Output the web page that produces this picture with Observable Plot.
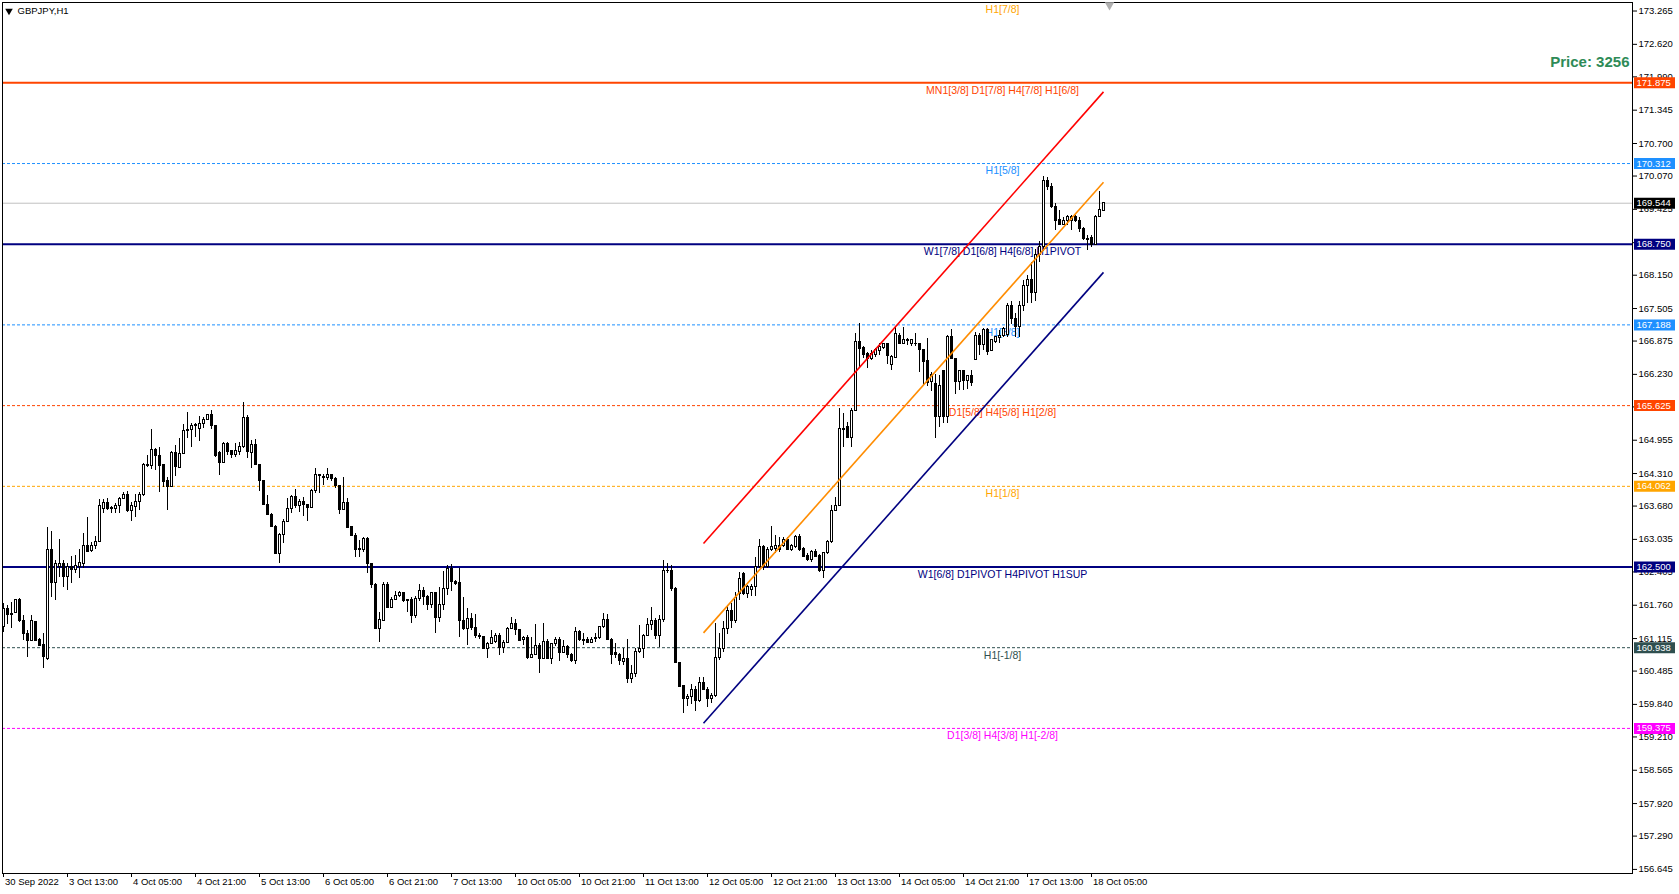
<!DOCTYPE html>
<html><head><meta charset="utf-8">
<script src="https://cdn.jsdelivr.net/npm/d3@7"></script>
<script src="https://cdn.jsdelivr.net/npm/@observablehq/plot@0.6"></script>
<style>body{margin:0;background:#fff;} svg{display:block}</style>
</head><body><div id="chart"></div>
<script>
// ---- hourly candles GBPJPY H1, bar 0 = 30 Sep 2022 21:00 ----
const opens = [
161.335,161.690,161.58,161.613,161.852,161.464,161.206,161.064,161.445,161.090,
160.993,160.722,162.820,162.187,162.497,162.562,162.303,162.497,162.445,162.497,
162.562,162.910,162.807,162.910,162.988,163.627,163.749,163.633,163.627,163.672,
163.820,163.898,163.581,163.659,163.755,163.885,164.466,164.459,164.756,164.659,
164.466,164.156,164.046,164.711,164.420,164.691,165.143,165.156,165.240,165.175,
165.272,165.356,165.434,165.240,164.704,164.517,164.885,164.737,164.672,164.724,
164.820,165.388,164.711,164.853,164.478,164.175,163.704,163.511,163.284,162.755,
163.123,163.381,163.627,163.865,163.691,163.768,163.710,163.646,163.981,164.253,
164.240,164.227,164.272,164.207,164.078,163.607,163.743,163.271,163.110,162.852,
162.839,163.033,162.562,162.161,161.303,161.464,162.161,161.710,161.865,161.948,
161.994,161.839,161.852,161.561,161.884,162.045,161.916,161.755,161.994,161.516,
161.774,162.077,162.465,162.207,162.194,161.464,161.303,161.497,161.322,161.174,
161.142,160.916,161.013,161.045,161.174,160.935,161.032,161.303,161.400,161.271,
161.090,161.129,160.742,160.806,160.980,160.722,161.045,160.722,161.000,161.090,
160.838,160.948,160.806,160.690,161.238,161.090,161.090,161.026,161.109,161.129,
161.335,161.477,161.090,160.832,160.806,160.658,160.722,160.335,160.419,160.851,
160.916,161.174,161.387,161.464,161.174,161.477,162.432,162.432,162.077,160.651,
160.187,159.948,159.980,160.122,159.903,160.251,160.122,159.948,160.012,160.742,
160.92,161.30,161.65,161.45,161.98,162.37,161.98,162.05,162.11,162.50,
162.88,162.50,162.82,162.85,162.90,162.90,163.03,162.83,162.88,163.08,
162.85,162.72,162.63,162.79,162.72,162.43,162.77,162.98,163.59,163.69,
165.18,165.21,165.00,165.53,166.85,166.74,166.63,166.53,166.61,166.69,
166.74,166.81,166.42,166.55,166.98,166.82,166.89,166.82,166.82,166.82,
166.70,166.49,166.08,166.05,165.40,166.29,165.40,166.95,166.53,166.08,
166.29,166.10,166.19,166.51,166.98,166.79,167.08,166.69,166.85,166.94,
166.98,167.00,167.55,167.30,167.15,167.55,167.95,168.05,167.80,168.55,
168.69,169.97,169.867,169.467,169.222,169.131,169.19,169.196,169.273,169.209,
169.047,168.854,168.87,168.744,169.286,169.402];
const highs = [
161.787,161.755,161.819,161.871,161.884,161.561,161.271,161.561,161.450,161.109,
161.219,163.271,163.188,162.626,163.033,162.626,162.575,162.704,162.723,162.833,
163.142,163.465,162.981,163.091,163.801,163.801,163.820,163.672,163.736,163.839,
163.949,163.969,163.749,163.898,163.949,164.498,164.659,165.162,164.788,164.820,
164.466,164.227,164.743,164.853,164.982,165.259,165.485,165.285,165.272,165.414,
165.401,165.453,165.530,165.240,164.743,164.917,164.917,164.756,164.898,164.917,
165.692,165.434,164.949,164.962,164.478,164.175,163.885,163.530,163.304,163.142,
163.413,163.820,163.885,163.994,163.801,163.852,163.710,163.994,164.401,164.291,
164.291,164.401,164.291,164.227,164.078,164.227,163.820,163.284,163.142,163.013,
163.065,163.065,162.575,162.174,161.626,162.207,162.207,161.916,162.032,162.032,
162.013,161.865,161.916,161.929,162.161,162.110,161.948,162.013,161.994,162.097,
162.419,162.529,162.549,162.239,162.465,161.916,161.690,161.593,161.580,161.206,
161.155,161.045,161.271,161.219,161.206,161.077,161.335,161.516,161.477,161.284,
161.155,161.174,161.129,161.387,161.026,161.413,161.090,161.026,161.129,161.129,
161.077,160.980,160.832,161.335,161.271,161.206,161.129,161.129,161.206,161.348,
161.593,161.580,161.109,161.026,160.832,160.916,161.090,160.593,160.916,161.367,
161.193,161.497,161.723,161.497,161.561,162.626,162.562,162.529,162.097,160.658,
160.187,160.032,160.225,160.187,160.354,160.354,160.161,160.057,161.413,161.206,
161.45,161.75,161.80,162.00,162.40,162.40,162.15,162.16,162.69,163.03,
162.92,162.88,163.28,163.11,163.08,163.07,163.07,162.94,163.11,163.13,
162.87,162.77,162.82,162.83,162.74,162.77,163.01,163.69,163.85,165.56,
165.48,165.30,165.56,167.02,167.22,166.76,166.66,166.69,166.74,166.83,
166.83,166.82,166.60,167.16,167.03,167.14,166.92,166.89,167.03,166.83,
166.72,166.92,166.27,166.23,166.21,166.30,166.98,167.09,166.53,166.30,
166.30,166.21,166.30,167.05,167.03,167.11,167.11,166.90,166.97,167.07,
167.13,167.60,167.65,167.40,167.65,168.05,168.15,168.40,168.65,168.80,
170.06,170.035,169.919,169.531,169.402,169.273,169.31,169.306,169.306,169.273,
169.080,168.918,168.92,169.306,169.777,169.531];
const lows = [
161.238,161.387,161.303,161.593,161.432,161.077,160.754,161.060,161.064,160.961,
160.541,160.690,161.916,161.852,162.303,162.097,162.045,162.174,162.368,162.284,
162.465,162.787,162.787,162.839,162.981,163.530,163.594,163.530,163.530,163.543,
163.801,163.562,163.388,163.465,163.594,163.872,164.433,164.388,164.369,163.949,
164.033,163.594,164.033,164.253,164.401,164.678,164.982,164.808,165.014,164.937,
165.175,165.337,165.156,164.627,164.272,164.511,164.659,164.595,164.627,164.659,
164.788,164.595,164.401,164.466,163.969,163.691,163.497,163.259,162.742,162.562,
162.962,163.368,163.530,163.627,163.562,163.478,163.388,163.627,163.917,163.917,
164.078,164.175,164.162,164.014,163.511,163.594,163.239,163.091,162.691,162.691,
162.787,162.381,162.077,161.303,161.045,161.451,161.690,161.690,161.852,161.916,
161.819,161.626,161.413,161.497,161.839,161.755,161.658,161.690,161.206,161.432,
161.658,161.948,162.032,162.142,161.129,161.271,160.980,161.271,161.109,161.090,
160.896,160.722,161.000,161.026,160.787,160.832,161.013,161.284,161.174,161.064,
160.980,160.703,160.742,160.787,160.432,160.703,160.703,160.612,160.961,160.677,
160.819,160.722,160.658,160.612,161.064,160.980,161.013,161.013,161.045,161.090,
161.303,161.077,160.612,160.722,160.593,160.593,160.251,160.251,160.367,160.832,
160.722,161.155,161.271,161.090,160.948,161.432,162.381,162.032,160.625,160.161,
159.670,159.799,159.838,159.709,159.883,160.109,159.774,159.851,159.980,160.690,
160.85,161.20,161.30,161.40,161.85,161.95,161.90,161.92,161.92,162.47,
162.43,162.47,162.81,162.76,162.79,162.88,162.82,162.81,162.85,162.81,
162.69,162.61,162.59,162.69,162.40,162.27,162.74,162.96,163.58,163.67,
164.82,164.98,164.82,165.52,166.34,166.53,166.34,166.49,166.56,166.60,
166.72,166.42,166.30,166.53,166.81,166.81,166.79,166.77,166.77,166.27,
166.01,165.99,165.89,164.98,165.21,165.27,165.27,166.51,165.84,165.92,
165.92,165.93,166.00,166.50,166.60,166.69,166.60,166.68,166.83,166.82,
166.95,166.95,167.20,166.95,166.95,167.45,167.60,167.60,167.65,168.40,
168.60,169.79,169.435,169.015,169.112,169.112,169.11,169.015,169.177,168.983,
168.822,168.628,168.69,168.725,169.273,169.402];
const closes = [
161.690,161.574,161.60,161.852,161.451,161.206,161.064,161.464,161.077,160.980,
160.754,162.820,162.187,162.562,162.562,162.303,162.497,162.445,162.516,162.581,
162.910,162.800,162.910,162.988,163.672,163.749,163.627,163.646,163.672,163.820,
163.898,163.581,163.672,163.768,163.885,164.466,164.459,164.756,164.646,164.453,
164.143,164.046,164.711,164.433,164.691,165.143,165.156,165.240,165.253,165.272,
165.356,165.434,165.240,164.659,164.517,164.885,164.724,164.672,164.737,164.820,
165.388,164.724,164.853,164.478,164.162,163.704,163.511,163.284,162.755,163.123,
163.381,163.627,163.865,163.672,163.768,163.704,163.646,163.981,164.272,164.272,
164.227,164.272,164.207,164.078,163.607,163.743,163.252,163.097,162.833,162.820,
163.033,162.562,162.161,161.303,161.477,162.161,161.710,161.865,161.948,162.000,
161.839,161.852,161.561,161.884,162.045,161.916,161.755,161.994,161.516,161.774,
162.077,162.465,162.207,162.174,161.451,161.303,161.497,161.322,161.174,161.142,
160.916,161.013,161.129,161.174,160.935,161.032,161.303,161.400,161.271,161.077,
161.129,160.742,160.806,160.980,160.722,161.045,160.722,161.000,161.090,160.838,
160.948,160.787,160.677,161.238,161.090,161.077,161.026,161.090,161.129,161.335,
161.477,161.090,160.806,160.787,160.677,160.722,160.335,160.419,160.851,160.916,
161.174,161.387,161.464,161.174,161.477,162.432,162.419,162.077,160.638,160.174,
159.948,159.993,160.122,159.903,160.251,160.122,159.948,160.012,160.742,160.916,
161.30,161.65,161.45,161.90,162.27,161.98,162.11,162.11,162.50,162.88,
162.50,162.82,162.88,162.90,162.82,163.03,162.83,162.90,163.08,162.82,
162.70,162.63,162.79,162.70,162.43,162.77,162.98,163.59,163.69,165.18,
165.16,165.00,165.53,166.85,166.72,166.60,166.53,166.63,166.71,166.76,
166.81,166.58,166.56,167.02,166.82,166.89,166.87,166.89,166.81,166.70,
166.47,166.06,166.21,165.40,166.01,165.40,166.95,166.53,166.08,166.29,
166.10,166.19,166.06,166.98,166.79,167.08,166.66,166.89,166.95,166.98,
167.11,167.55,167.30,167.15,167.55,167.95,168.05,167.80,168.55,168.69,
169.98,169.854,169.467,169.209,169.131,169.209,169.27,169.273,169.196,169.047,
168.854,168.835,168.74,169.273,169.415,169.544];

// time axis
const xTickBars = [0,16,32,48,64,80,96,112,128,144,160,176,192,208,224,240,256,272];
const xTickLabels = ["30 Sep 2022","3 Oct 13:00","4 Oct 05:00","4 Oct 21:00","5 Oct 13:00","6 Oct 05:00","6 Oct 21:00","7 Oct 13:00","10 Oct 05:00","10 Oct 21:00","11 Oct 13:00","12 Oct 05:00","12 Oct 21:00","13 Oct 13:00","14 Oct 05:00","14 Oct 21:00","17 Oct 13:00","18 Oct 05:00"];
// price axis
const yTicks = [173.265,172.620,171.990,171.345,170.700,170.070,169.425,168.780,168.150,167.505,166.875,166.230,165.600,164.955,164.310,163.680,163.035,162.405,161.760,161.115,160.485,159.840,159.210,158.565,157.920,157.290,156.645];

// Murrey math levels
const levels = [171.875,170.312,168.750,167.188,165.625,164.062,162.500,160.938,159.375];
const levelNames = ["MN1[3/8] D1[7/8] H4[7/8] H1[6/8]","H1[5/8]","W1[7/8] D1[6/8] H4[6/8] H1PIVOT","H1[3/8]","D1[5/8] H4[5/8] H1[2/8]","H1[1/8]","W1[6/8] D1PIVOT H4PIVOT H1SUP","H1[-1/8]","D1[3/8] H4[3/8] H1[-2/8]"];
const levelColors = ["#FF4500","#1E90FF","#000080","#1E90FF","#FF4500","#FFA500","#000080","#2F4F4F","#FF00FF"];
const levelSolid = [true,false,true,false,false,false,true,false,false];
const topLevel = 173.4375, topLevelName = "H1[7/8]", topLevelColor = "#FFA500";
const currentPrice = 169.544;

// channel (trend lines)
const channelColors = ["#FF0000","#FF8C00","#000080"];
const channelStartBar = [175,175,175];
const channelEndBar = [275,275,275];
const channelStart = [162.955,161.225,159.476];
const channelEnd = [171.700,169.950,168.205];

const symbolTitle = "GBPJPY,H1";
const priceText = "Price: 3256";

const idx = d3.range(opens.length);
const bull = idx.filter(i => closes[i] >= opens[i]);
const bear = idx.filter(i => closes[i] < opens[i]);
const fmt = d3.format(".3f");
const labelBar = 249.75;

const marks = [];
levels.forEach((v, i) => {
  marks.push(Plot.ruleY([v], {stroke: levelColors[i], strokeWidth: levelSolid[i] ? 2 : 1, strokeDasharray: levelSolid[i] ? null : "3,2"}));
});
marks.push(Plot.ruleY([currentPrice], {stroke: "#C0C0C0", strokeWidth: 1}));
levels.forEach((v, i) => {
  marks.push(Plot.text([v], {x: labelBar, y: d => d, text: () => levelNames[i], fill: levelColors[i], dy: 7.5, fontSize: 10.5, lineAnchor: "middle"}));
});
marks.push(Plot.text([topLevel], {x: labelBar, y: d => d, text: () => topLevelName, fill: topLevelColor, dy: 7.5, fontSize: 10.5, lineAnchor: "middle"}));
// candles
marks.push(Plot.ruleX(idx, {x: i => i, y1: i => lows[i], y2: i => highs[i], stroke: "black", strokeWidth: 1, shapeRendering: "crispEdges"}));
marks.push(Plot.rect(bull, {x1: i => i - 0.25, x2: i => i + 0.25, y1: i => opens[i], y2: i => closes[i], fill: "white", stroke: "black", strokeWidth: 1, shapeRendering: "crispEdges"}));
marks.push(Plot.rect(bear, {x1: i => i - 0.25, x2: i => i + 0.25, y1: i => opens[i], y2: i => closes[i], fill: "black", stroke: "black", strokeWidth: 1, shapeRendering: "crispEdges"}));
// channel
channelColors.forEach((c, i) => {
  marks.push(Plot.link([i], {x1: () => channelStartBar[i], y1: () => channelStart[i], x2: () => channelEndBar[i], y2: () => channelEnd[i], stroke: c, strokeWidth: 1.6}));
});
marks.push(Plot.frame({stroke: "black", shapeRendering: "crispEdges"}));
// price boxes on axis
levels.forEach((v, i) => {
  marks.push(Plot.ruleY([v], {stroke: levelColors[i], strokeWidth: 11, insetLeft: 1632, insetRight: -43}));
  marks.push(Plot.text([v], {y: d => d, frameAnchor: "right", dx: 4, textAnchor: "start", lineAnchor: "middle", fill: "white", text: d => fmt(d)}));
});
marks.push(Plot.ruleY([currentPrice], {stroke: "black", strokeWidth: 11, insetLeft: 1632, insetRight: -43}));
marks.push(Plot.text([currentPrice], {y: d => d, frameAnchor: "right", dx: 4, textAnchor: "start", lineAnchor: "middle", fill: "white", text: d => fmt(d)}));
// time labels
marks.push(Plot.text(xTickBars, {x: d => d, text: (d, i) => xTickLabels[i], frameAnchor: "bottom", dy: 8.5, dx: 1.5, textAnchor: "start", lineAnchor: "middle"}));
// title + price
marks.push(Plot.dot([0], {frameAnchor: "top-left", dx: 6.5, dy: 8.5, symbol: "triangle", r: 2.8, rotate: 180, fill: "black", stroke: "none"}));
marks.push(Plot.text([symbolTitle], {frameAnchor: "top-left", dx: 15, dy: 8, textAnchor: "start", lineAnchor: "middle", text: d => d}));
marks.push(Plot.text([priceText], {frameAnchor: "top-right", dx: -3, dy: 59.5, textAnchor: "end", lineAnchor: "middle", text: d => d, fontSize: 15, fontWeight: "bold", fill: "#2E8B57"}));
marks.push(Plot.dot([276.5], {x: d => d, frameAnchor: "top", dy: 2.5, symbol: "triangle", r: 3.5, rotate: 180, fill: "#B0B0B0", stroke: "none"}));

const chart = Plot.plot({
  width: 1679, height: 894,
  marginLeft: 2, marginRight: 47, marginTop: 2, marginBottom: 21,
  style: {fontFamily: "'Liberation Sans', Arial, sans-serif", fontSize: "9.5px", background: "white", color: "black", overflow: "visible"},
  x: {domain: [-0.25, 407.25], axis: "bottom", ticks: xTickBars, tickFormat: () => "", tickSize: 4, label: null},
  y: {domain: [156.566, 173.43], axis: "right", ticks: yTicks, tickFormat: fmt, tickSize: 4, tickPadding: 2, label: null},
  marks
});
document.getElementById("chart").appendChild(chart);
</script></body></html>
